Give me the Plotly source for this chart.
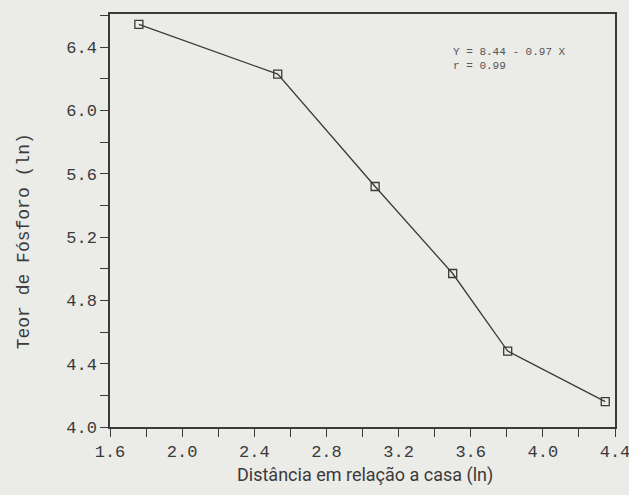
import plotly.graph_objects as go

dist_ln = [1.76, 2.53, 3.07, 3.50, 3.805, 4.346]
fosforo_ln = [6.545, 6.23, 5.52, 4.97, 4.48, 4.16]
x_ticks = [1.6, 2.0, 2.4, 2.8, 3.2, 3.6, 4.0, 4.4]
y_ticks = [4.0, 4.4, 4.8, 5.2, 5.6, 6.0, 6.4]

paper = "#ebebe8"
ink = "#3a3a3a"
mono = "Liberation Mono, Courier New, monospace"

fig = go.Figure()
fig.add_trace(go.Scatter(
    x=dist_ln, y=fosforo_ln, mode="lines+markers",
    line=dict(color=ink, width=1.3),
    marker=dict(symbol="square-open", size=8, color=ink, line=dict(width=1.3, color=ink)),
    showlegend=False,
))

axis_common = dict(
    showline=True, linecolor=ink, linewidth=1.5, mirror=True,
    ticks="outside", ticklen=8, tickwidth=1.3, tickcolor=ink,
    showgrid=False, zeroline=False, ticklabeloverflow="allow", automargin=False,
    tickfont=dict(family=mono, size=17, color=ink),
)

fig.update_xaxes(
    range=[1.6, 4.4], tickvals=x_ticks, ticktext=[f"{v:.1f}" for v in x_ticks],
    minor=dict(ticks="outside", ticklen=8, tickwidth=1.3, tickcolor=ink, dtick=0.2, tick0=1.6, showgrid=False),
    **axis_common,
)
fig.update_yaxes(
    range=[4.0, 6.61], tickvals=y_ticks, ticktext=[f"{v:.1f}" for v in y_ticks],
    minor=dict(ticks="outside", ticklen=8, tickwidth=1.3, tickcolor=ink, dtick=0.2, tick0=4.0, showgrid=False),
    **axis_common,
)

fig.add_annotation(
    text="Teor de Fósforo (ln)", textangle=-90, xref="paper", yref="paper",
    x=-0.17, y=0.45, showarrow=False, xanchor="center", yanchor="middle",
    font=dict(family=mono, size=18, color=ink),
)
fig.add_annotation(
    text="Distância em relação a casa (ln)", xref="paper", yref="paper",
    x=0.505, y=-0.116, showarrow=False, xanchor="center", yanchor="middle",
    font=dict(family="Liberation Sans Narrow, Roboto, sans-serif", size=18, color=ink),
)
fig.add_annotation(
    text="Y = 8.44 - 0.97 X<br>r = 0.99", xref="x", yref="y",
    x=3.49, y=6.42, showarrow=False, xanchor="left", yanchor="top", align="left",
    font=dict(family=mono, size=11, color="#555555"),
)

fig.update_layout(
    width=629, height=495,
    margin=dict(l=110, r=14, t=14, b=68),
    paper_bgcolor=paper, plot_bgcolor=paper,
)

fig.write_html("out.html")
